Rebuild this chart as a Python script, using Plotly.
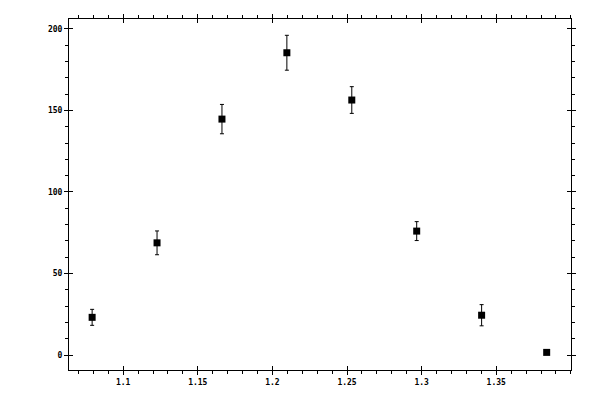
import plotly.graph_objects as go

# measured points with symmetric errors
x_vals = [1.0792, 1.1227, 1.1662, 1.2097, 1.2532, 1.2967, 1.3402, 1.3838]
y_vals = [23.1, 68.8, 144.7, 185.4, 156.4, 76.0, 24.4, 1.6]
y_err = [4.9, 7.3, 9.0, 10.7, 8.2, 5.8, 6.5, 1.2]

x_range = [1.0637, 1.4001]
y_range = [-9.2, 206.1]
x_ticks = [1.1, 1.15, 1.2, 1.25, 1.3, 1.35]
x_labels = ["1.1", "1.15", "1.2", "1.25", "1.3", "1.35"]
y_ticks = [0, 50, 100, 150, 200]

font = dict(family="DejaVu Sans Mono", size=8, color="black", weight="bold")

fig = go.Figure()
fig.add_trace(go.Scatter(
    x=x_vals, y=y_vals, mode="markers",
    marker=dict(symbol="square", size=7, color="black"),
    error_y=dict(type="data", array=y_err, color="black", thickness=1, width=2),
    showlegend=False,
))

# outer ticks (major + minor), mirrored to top/right
axis_common = dict(showline=True, linecolor="black", linewidth=1, showgrid=False,
                   zeroline=False, ticks="outside", ticklen=4, tickwidth=1,
                   tickcolor="black", mirror="ticks", tickfont=font)
fig.update_layout(
    width=600, height=400,
    margin=dict(l=69, r=29, t=19, b=30),
    paper_bgcolor="white", plot_bgcolor="white",
    xaxis=dict(range=x_range, tickvals=x_ticks, ticktext=x_labels,
               minor=dict(dtick=0.01, tick0=1.0, ticks="outside", ticklen=3,
                          tickcolor="black", showgrid=False),
               **axis_common),
    yaxis=dict(range=y_range, tickvals=y_ticks,
               minor=dict(dtick=10, tick0=0, ticks="outside", ticklen=3,
                          tickcolor="black", showgrid=False),
               **axis_common),
    # inner halves of the major ticks
    xaxis2=dict(overlaying="x", anchor="y", range=x_range, tickvals=x_ticks,
                ticks="inside", ticklen=4, tickcolor="black", mirror="ticks",
                showticklabels=False, showgrid=False, zeroline=False,
                showline=False),
    yaxis2=dict(overlaying="y", anchor="x", range=y_range, tickvals=y_ticks,
                ticks="inside", ticklen=4, tickcolor="black", mirror="ticks",
                showticklabels=False, showgrid=False, zeroline=False,
                showline=False),
)
fig.add_trace(go.Scatter(x=x_vals, y=y_vals, xaxis="x2", yaxis="y2", mode="markers",
                         marker=dict(opacity=0), hoverinfo="skip", showlegend=False))

fig.write_html("out.html", config={"displayModeBar": False},
               post_script="document.body.style.margin='0';")
